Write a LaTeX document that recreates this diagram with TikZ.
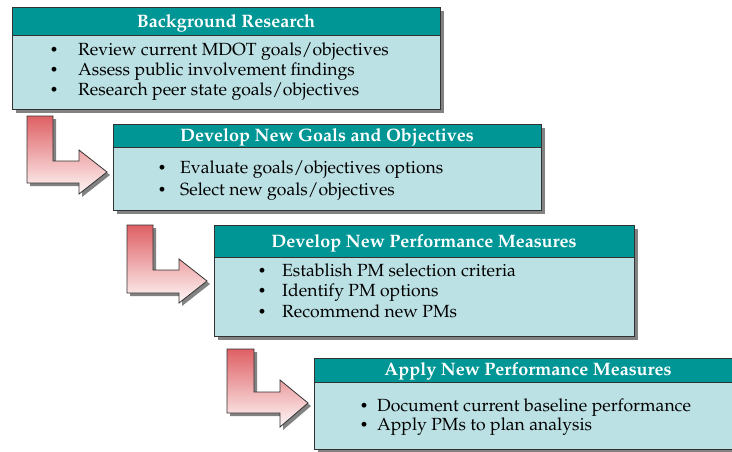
\documentclass[tikz,border=0pt]{standalone}
\usepackage[T1]{fontenc}
\renewcommand{\rmdefault}{ppl}
\usetikzlibrary{shadows}
\definecolor{teal1}{RGB}{0,150,150}
\definecolor{bodyc}{RGB}{188,225,228}
\definecolor{edgec}{RGB}{50,50,50}
\definecolor{shadc}{RGB}{130,130,130}
\definecolor{arrtop}{RGB}{222,96,100}
\definecolor{arrbot}{RGB}{255,248,248}
\tikzset{
  bodybox/.style={draw=edgec, line width=1pt, fill=bodyc, inner sep=0pt, anchor=north west,
     drop shadow={shadow xshift=3pt, shadow yshift=-3pt, fill=shadc, opacity=1}},
  hdrbox/.style={draw=edgec, line width=1pt, fill=teal1, inner sep=0pt, anchor=north west},
  hdrtext/.style={text=white, font=\fontsize{18}{21}\selectfont\bfseries, anchor=base, inner sep=0pt},
  itemtext/.style={text=black, font=\fontsize{17.6}{21}\selectfont, anchor=base west, inner sep=0pt},
  bul/.style={text=black, font=\fontsize{14}{17}\selectfont, anchor=base, inner sep=0pt, yshift=1pt},
  larrow/.style={draw=edgec, line width=0.8pt, top color=arrtop, bottom color=arrbot},
  larrowshadow/.style={fill=shadc, draw=none}
}
\begin{document}
\begin{tikzpicture}[x=1pt,y=-1pt]
\useasboundingbox (0,0) rectangle (732,451);
\begin{scope}
\clip (0,0) rectangle (732,451);
% ---------- Box 1
\node[bodybox, minimum width=428pt, minimum height=102pt] (box1) at (12,7) {};
\node[hdrbox, minimum width=428pt, minimum height=28pt] (hdr1) at (12,7) {};
\node[hdrtext] (h1) at (226,27) {Background Research};
\node[bul] (b11) at (54,55) {\textbullet};
\node[itemtext] (t11) at (78,55) {Review current MDOT goals/objectives};
\node[bul] (b12) at (54,75) {\textbullet};
\node[itemtext] (t12) at (78,75) {Assess public involvement findings};
\node[bul] (b13) at (54,95) {\textbullet};
\node[itemtext] (t13) at (78,95) {Research peer state goals/objectives};
% ---------- Box 2
\node[bodybox, minimum width=428pt, minimum height=86pt] (box2) at (113,124) {};
\node[hdrbox, minimum width=428pt, minimum height=23pt] (hdr2) at (113,124) {};
\node[hdrtext] (h2) at (327,141) {Develop New Goals and Objectives};
\node[bul] (b21) at (162,173) {\textbullet};
\node[itemtext] (t21) at (180,173) {Evaluate goals/objectives options};
\node[bul] (b22) at (162,195) {\textbullet};
\node[itemtext] (t22) at (180,195) {Select new goals/objectives};
% ---------- Box 3
\node[bodybox, minimum width=420pt, minimum height=111pt] (box3) at (214,225) {};
\node[hdrbox, minimum width=420pt, minimum height=32pt] (hdr3) at (214,225) {};
\node[hdrtext] (h3) at (424,247) {Develop New Performance Measures};
\node[bul] (b31) at (262,276) {\textbullet};
\node[itemtext] (t31) at (282,276) {Establish PM selection criteria};
\node[bul] (b32) at (262,296) {\textbullet};
\node[itemtext] (t32) at (282,296) {Identify PM options};
\node[bul] (b33) at (262,317) {\textbullet};
\node[itemtext] (t33) at (282,317) {Recommend new PMs};
% ---------- Box 4
\node[bodybox, minimum width=430pt, minimum height=91pt] (box4) at (314,358) {};
\node[hdrbox, minimum width=430pt, minimum height=24pt] (hdr4) at (314,358) {};
\node[hdrtext] (h4) at (528,375) {Apply New Performance Measures};
\node[bul] (b41) at (364,411) {\textbullet};
\node[itemtext] (t41) at (377,411) {Document current baseline performance};
\node[bul] (b42) at (364,430) {\textbullet};
\node[itemtext] (t42) at (377,430) {Apply PMs to plan analysis};
\end{scope}
% ---------- L arrows (drawn with upward y so the shading is not flipped)
\begin{scope}[y=1pt]
\foreach \pa/\pb/\pc/\pd/\pe/\pf/\pg/\ph/\pi/\pj in
  {27/53/116/161/183/79/150/194/107/172,
   127/153/225/270/293/179/259/303/207/281,
   227/254/349/392/413/280/380/427/308/403}{
  \fill[larrowshadow] (\pa+3,-\pc-3) -- (\pb+3,-\pc-3) -- (\pb+3,-\pd-3) -- (\pf+3,-\pd-3) -- (\pf+3,-\pg-3)
     -- (\pi+3,-\pj-3) -- (\pf+3,-\ph-3) -- (\pf+3,-\pe-3) -- (\pa+3,-\pe-3) -- cycle;
  \path[larrow] (\pa,-\pc) -- (\pb,-\pc) -- (\pb,-\pd) -- (\pf,-\pd) -- (\pf,-\pg)
     -- (\pi,-\pj) -- (\pf,-\ph) -- (\pf,-\pe) -- (\pa,-\pe) -- cycle;
}
\end{scope}
\end{tikzpicture}
\end{document}
